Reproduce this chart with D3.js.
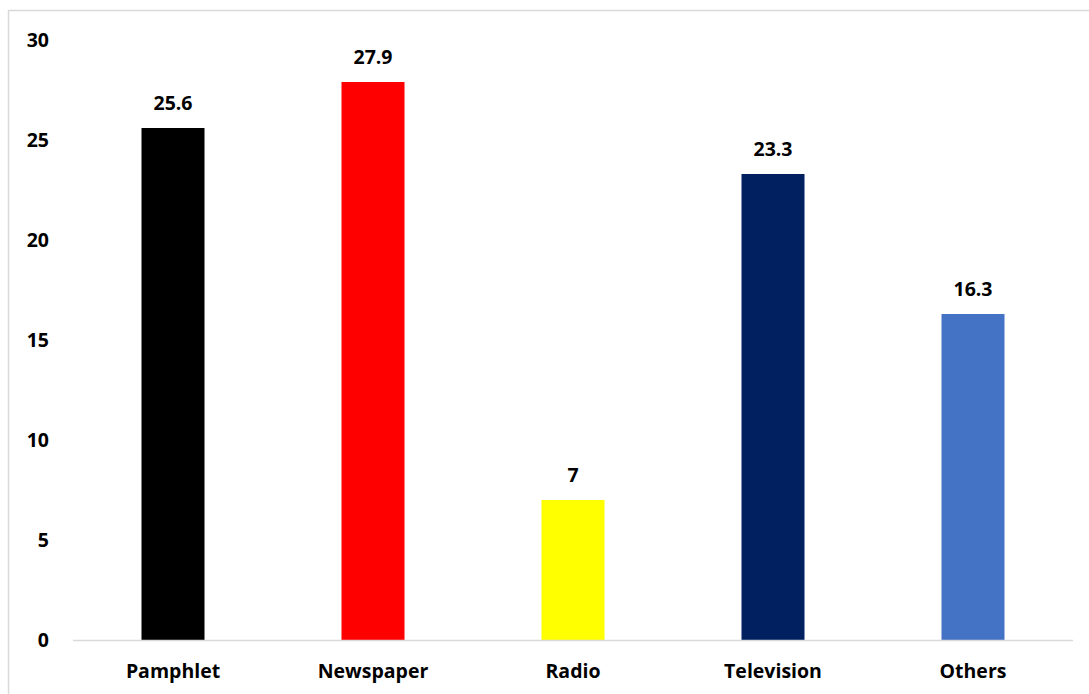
<!DOCTYPE html>
<html>
<head>
<meta charset="utf-8">
<script src="https://cdn.jsdelivr.net/npm/d3@7/dist/d3.min.js"></script>
<style>
  html, body { margin: 0; padding: 0; background: #fff; }
  svg { display: block; }
  text { font-family: "Open Sans", Lato, sans-serif; font-weight: bold; fill: #000; }
</style>
</head>
<body>
<svg id="chart" width="1089" height="694"></svg>
<script>
// Share of respondents by information source
const categories = ["Pamphlet", "Newspaper", "Radio", "Television", "Others"];
const values = [25.6, 27.9, 7, 23.3, 16.3];
const colors = ["#000000", "#FF0000", "#FFFF00", "#002060", "#4472C4"];
const yTicks = [0, 5, 10, 15, 20, 25, 30];

const FONT = "'Open Sans', Lato, sans-serif";
const FS = 19.5;

const svg = d3.select("#chart");
const W = 1089, H = 694;

// chart frame
svg.append("rect")
  .attr("x", 8.5).attr("y", 10.5)
  .attr("width", W + 10).attr("height", H + 10)
  .attr("fill", "none").attr("stroke", "#d9d9d9").attr("stroke-width", 1.5);

const plot = { left: 73, right: 1073, top: 40, bottom: 640 };

const x = d3.scaleBand()
  .domain(categories)
  .range([plot.left, plot.right])
  .paddingInner(0.685)
  .paddingOuter(0.3425);

const y = d3.scaleLinear()
  .domain([0, 30])
  .range([plot.bottom, plot.top]);

// y-axis labels (no axis line or gridlines)
const yAxis = d3.axisLeft(y).tickValues(yTicks).tickSize(0).tickPadding(0);
const gy = svg.append("g").attr("transform", "translate(49,0)").call(yAxis);
gy.select(".domain").remove();
gy.selectAll("text")
  .attr("font-family", FONT)
  .attr("font-weight", "bold")
  .attr("font-size", FS)
  .attr("fill", "#000")
  .attr("dy", "0.35em");

// bars
svg.append("g").selectAll("rect")
  .data(values)
  .join("rect")
  .attr("x", (d, i) => x(categories[i]))
  .attr("y", d => y(d))
  .attr("width", x.bandwidth())
  .attr("height", d => y(0) - y(d))
  .attr("fill", (d, i) => colors[i]);

// value labels
svg.append("g").selectAll("text")
  .data(values)
  .join("text")
  .attr("x", (d, i) => x(categories[i]) + x.bandwidth() / 2)
  .attr("y", d => y(d) - 18)
  .attr("text-anchor", "middle")
  .attr("font-size", FS)
  .text(d => d);

// baseline
svg.append("line")
  .attr("x1", plot.left).attr("x2", plot.right)
  .attr("y1", plot.bottom + 0.5).attr("y2", plot.bottom + 0.5)
  .attr("stroke", "#d9d9d9").attr("stroke-width", 1.5);

// category axis labels
const xAxis = d3.axisBottom(x).tickSize(0).tickPadding(0);
const gx = svg.append("g").attr("transform", `translate(0,${plot.bottom})`).call(xAxis);
gx.select(".domain").remove();
gx.selectAll("text")
  .attr("font-family", FONT)
  .attr("font-weight", "bold")
  .attr("font-size", FS)
  .attr("fill", "#000")
  .attr("dy", 0)
  .attr("y", 38);
</script>
</body>
</html>
